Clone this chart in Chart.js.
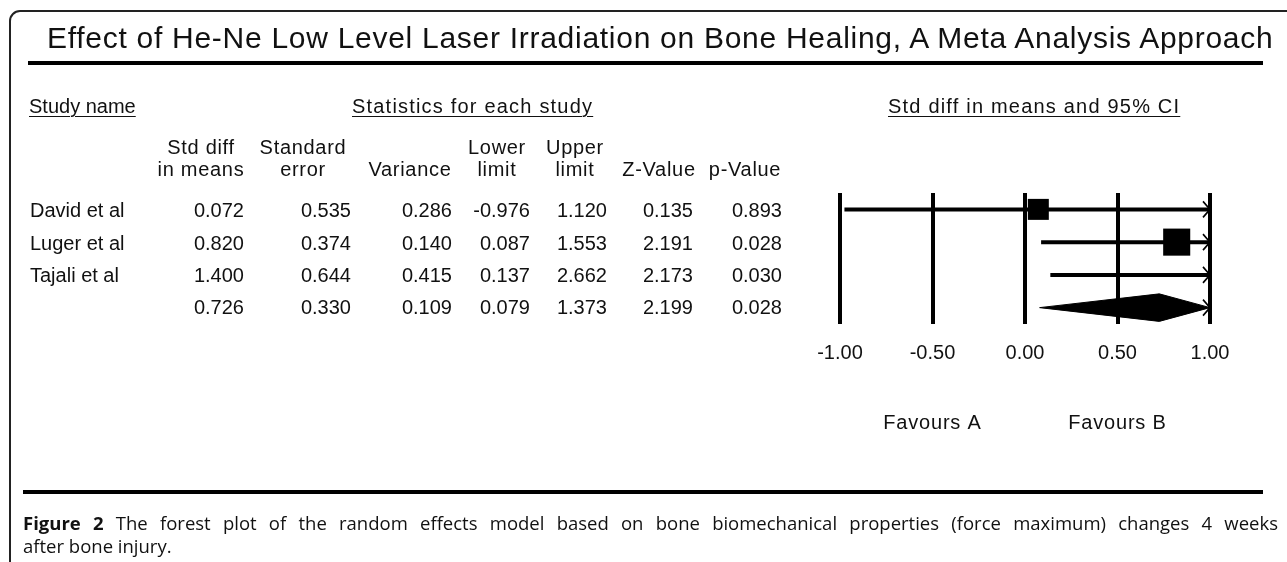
<!DOCTYPE html>
<html>
<head>
<meta charset="utf-8">
<script src="https://cdn.jsdelivr.net/npm/chart.js@4.4.1/dist/chart.umd.min.js"></script>
<style>
  body { margin: 0; background: #fff; }
  #wrap { position: relative; width: 1287px; height: 562px; overflow: hidden;
          font-family: 'Liberation Sans', Arial, sans-serif; color: #111; }
  #frame { position: absolute; left: 9px; top: 10px; width: 1400px; height: 800px;
           border: 2px solid #222; border-radius: 11px; box-sizing: border-box; }
  .rule { position: absolute; background: #000; }
  .t { position: absolute; white-space: nowrap; line-height: 1; }
  .h { letter-spacing: 0.7px; }
  .u { text-decoration: underline; text-underline-offset: 3px; text-decoration-thickness: 1px; }
  #caption { position: absolute; left: 23px; top: 511px; width: 1255px;
             font-family: 'Open Sans', 'Noto Sans', sans-serif; font-size: 18.5px; line-height: 23px; color: #111; }
  #caption .l1 { display: block; text-align: justify; text-align-last: justify; white-space: nowrap; }
  #chart { position: absolute; left: 0; top: 0; }
</style>
</head>
<body>
<div id="wrap">
  <div id="frame"></div>
  <div class="rule" style="left:28px;top:61px;width:1235px;height:4px"></div>
  <div class="rule" style="left:23px;top:490px;width:1240px;height:4px"></div>
  <canvas id="chart" width="1287" height="562"></canvas>
  <div id="caption"><span class="l1"><b>Figure 2</b> The forest plot of the random effects model based on bone biomechanical properties (force maximum) changes 4 weeks</span>after bone injury.</div>
</div>
<script>
// rows: three studies, last row is the pooled estimate
const rowNames = ['David et al', 'Luger et al', 'Tajali et al', ''];
const stdDiff  = [0.072, 0.820, 1.400, 0.726];
const stdError = [0.535, 0.374, 0.644, 0.330];
const variance = [0.286, 0.140, 0.415, 0.109];
const lowerLim = [-0.976, 0.087, 0.137, 0.079];
const upperLim = [1.120, 1.553, 2.662, 1.373];
const zValue   = [0.135, 2.191, 2.173, 2.199];
const pValue   = [0.893, 0.028, 0.030, 0.028];
const xTicks   = [-1.00, -0.50, 0.00, 0.50, 1.00];
const tau2 = 0.08; // between-study variance (random effects weights)

const title = 'Effect of He-Ne Low Level Laser Irradiation on Bone Healing, A Meta Analysis Approach';
const headTop = ['Std diff', 'Standard', '', 'Lower', 'Upper', '', ''];
const headBottom = ['in means', 'error', 'Variance', 'limit', 'limit', 'Z-Value', 'p-Value'];
const columns = [stdDiff, stdError, variance, lowerLim, upperLim, zValue, pValue];

const wrap = document.getElementById('wrap');
const W = 1287;
const FS = 20;

function put(text, x, base, size, align, cls) {
  const d = document.createElement('div');
  d.className = 't' + (cls ? ' ' + cls : '');
  d.textContent = text;
  d.style.fontSize = size + 'px';
  d.style.top = (base - 0.8465 * size) + 'px';
  if (align === 'right') d.style.right = (W - x) + 'px';
  else if (align === 'center') { d.style.left = x + 'px'; d.style.transform = 'translateX(-50%)'; }
  else d.style.left = x + 'px';
  wrap.appendChild(d);
  return d;
}

// title + section headings
put(title, 47, 48, 30).style.letterSpacing = '0.72px';
put('Study name', 29, 113, FS, 'left', 'u');
put('Statistics for each study', 352, 113, FS, 'left', 'u').style.letterSpacing = '1.2px';
put('Std diff in means and 95% CI', 888, 113, FS, 'left', 'u').style.letterSpacing = '1.2px';

// table
const colRight = [244, 351, 452, 530, 607, 693, 782];
const colCenter = [201, 303, 410, 497, 575, 659, 745];
const rowBase = [217, 249.5, 281.5, 314];
headTop.forEach((h, c) => { if (h) put(h, colCenter[c], 154, FS, 'center', 'h'); });
headBottom.forEach((h, c) => put(h, colCenter[c], 176, FS, 'center', 'h'));
rowNames.forEach((n, r) => {
  if (n) put(n, 30, rowBase[r], FS, 'left');
  columns.forEach((col, c) => put(col[r].toFixed(3), colRight[c], rowBase[r], FS, 'right'));
});

// forest plot
const xMin = xTicks[0], xMax = xTicks[xTicks.length - 1];
const nStudies = 3;
const diamondHalf = 0.42;

const ciDatasets = [];
for (let i = 0; i < nStudies; i++) {
  ciDatasets.push({
    type: 'scatter', showLine: true,
    data: [{ x: lowerLim[i], y: i + 1 }, { x: upperLim[i], y: i + 1 }],
    borderColor: '#000', borderWidth: 4, pointRadius: 0, order: 2
  });
}

const squares = {
  type: 'scatter',
  data: stdDiff.slice(0, nStudies).map((v, i) => ({ x: v, y: i + 1 })),
  pointStyle: 'rect',
  pointRadius: variance.slice(0, nStudies).map(v => 12.7 * Math.sqrt(1 / (v + tau2)) / (2 * Math.SQRT1_2)),
  backgroundColor: '#000', borderWidth: 0, order: 1
};

const s = nStudies;
const diamond = {
  type: 'line',
  data: [
    { x: lowerLim[s], y: s + 1 },
    { x: stdDiff[s], y: s + 1 - diamondHalf },
    { x: Math.min(upperLim[s], xMax), y: s + 1 },
    { x: stdDiff[s], y: s + 1 + diamondHalf },
    { x: lowerLim[s], y: s + 1 }
  ],
  borderColor: '#000', borderWidth: 1, backgroundColor: '#000',
  fill: 'shape', pointRadius: 0, tension: 0, order: 1
};

const forestExtras = {
  id: 'forestExtras',
  afterDatasetsDraw(chart) {
    const ctx = chart.ctx, xs = chart.scales.x, ys = chart.scales.y;
    ctx.save();
    ctx.strokeStyle = '#000';
    ctx.lineWidth = 1.6;
    for (let i = 0; i < rowNames.length; i++) {
      const y = ys.getPixelForValue(i + 1);
      if (upperLim[i] > xMax) {
        const x = xs.getPixelForValue(xMax);
        ctx.beginPath(); ctx.moveTo(x - 7, y - 8); ctx.lineTo(x, y); ctx.lineTo(x - 7, y + 8); ctx.stroke();
      }
      if (lowerLim[i] < xMin) {
        const x = xs.getPixelForValue(xMin);
        ctx.beginPath(); ctx.moveTo(x + 7, y - 8); ctx.lineTo(x, y); ctx.lineTo(x + 7, y + 8); ctx.stroke();
      }
    }
    ctx.fillStyle = '#111';
    ctx.font = FS + "px 'Liberation Sans', Arial, sans-serif";
    ctx.letterSpacing = '0.8px';
    ctx.textAlign = 'center';
    ctx.textBaseline = 'alphabetic';
    ctx.fillText('Favours A', xs.getPixelForValue(-0.5), 429);
    ctx.fillText('Favours B', xs.getPixelForValue(0.5), 429);
    ctx.restore();
  }
};

new Chart(document.getElementById('chart').getContext('2d'), {
  type: 'scatter',
  data: { datasets: [...ciDatasets, squares, diamond] },
  options: {
    responsive: false,
    animation: false,
    events: [],
    layout: { padding: { left: 840, right: 77, top: 193, bottom: 180 } },
    plugins: { legend: { display: false }, tooltip: { enabled: false }, title: { display: false } },
    scales: {
      x: {
        type: 'linear', min: xMin, max: xMax,
        afterBuildTicks: sc => { sc.ticks = xTicks.map(v => ({ value: v })); },
        grid: { color: '#000', lineWidth: 4, drawTicks: false },
        border: { display: false },
        ticks: { color: '#111', padding: 17, font: { family: "'Liberation Sans', Arial, sans-serif", size: FS },
                 callback: v => Number(v).toFixed(2) }
      },
      y: { type: 'linear', min: 0.5, max: 4.5, reverse: true, display: false }
    }
  },
  plugins: [forestExtras]
});
</script>
</body>
</html>
